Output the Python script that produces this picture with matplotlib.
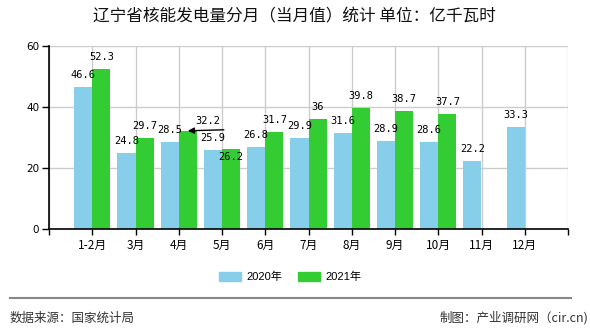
import numpy as np
import matplotlib
matplotlib.use("Agg")
import matplotlib.pyplot as plt
from matplotlib.patches import Patch
from matplotlib.lines import Line2D

plt.rcParams['font.family'] = ['Noto Sans CJK SC', 'DejaVu Sans']

title = "辽宁省核能发电量分月（当月值）统计 单位：亿千瓦时"
months = ['1-2月', '3月', '4月', '5月', '6月', '7月', '8月', '9月', '10月', '11月', '12月']
v2020 = [46.6, 24.8, 28.5, 25.9, 26.8, 29.9, 31.6, 28.9, 28.6, 22.2, 33.3]
v2021 = [52.3, 29.7, 32.2, 26.2, 31.7, 36, 39.8, 38.7, 37.7, np.nan, np.nan]
series_names = ['2020年', '2021年']
yticks = [0, 20, 40, 60]
source_text = "数据来源：国家统计局"
maker_text = "制图：产业调研网（cir.cn)"

c2020 = '#87CEEB'
c2021 = '#33CC33'

W, H = 590, 330
fig = plt.figure(figsize=(W / 100, H / 100), dpi=100)
ax = fig.add_axes([49 / W, 1 - 229 / H, (568 - 49) / W, (229 - 46) / H])

x = np.arange(len(months))
bw = 0.42
ax.bar(x - bw / 2, v2020, width=bw, color=c2020, zorder=3)
ax.bar(x + bw / 2, v2021, width=bw, color=c2021, zorder=3)

ax.set_xlim(-1, len(months))
ax.set_ylim(0, 60)
ax.set_yticks(yticks)
ax.set_yticklabels([str(t) for t in yticks], fontsize=7.5, family='DejaVu Sans')
ax.set_xticks(np.arange(-1, len(months) + 1))
ax.set_xticklabels([''] + months + [''], fontsize=8.5)
ax.tick_params(axis='x', length=4, width=1, color='black', pad=3)
ax.tick_params(axis='y', length=5, width=1, color='black', pad=2)

ax.grid(True, color='#CCCCCC', linewidth=1, zorder=0)
ax.set_axisbelow(True)
for s in ['top', 'right']:
    ax.spines[s].set_visible(False)
for s in ['left', 'bottom']:
    ax.spines[s].set_color('black')
    ax.spines[s].set_linewidth(1.2)
    ax.spines[s].set_zorder(4)

lab_kw = dict(ha='center', va='center', fontsize=7.5, family='DejaVu Sans Mono',
              textcoords='offset pixels', zorder=5)

for xi, v in zip(x, v2020):
    if not np.isnan(v):
        ax.annotate(f"{v:g}", (xi - bw / 2, v), xytext=(0, 12), **lab_kw)

for i, (xi, v) in enumerate(zip(x, v2021)):
    if np.isnan(v):
        continue
    off = (0, 12)
    if i == 2:
        off = (20, 10)
        ax.annotate('', xy=(xi + bw / 2, v), xytext=(36, 1), textcoords='offset pixels',
                    arrowprops=dict(arrowstyle='-|>', color='black', lw=1,
                                    mutation_scale=9, shrinkA=0, shrinkB=0), zorder=5)
    elif i == 3:
        off = (0, -8)
    ax.annotate(f"{v:g}", (xi + bw / 2, v), xytext=off, **lab_kw)

fig.text(294 / W, 1 - 17 / H, title, ha='center', va='center', fontsize=12, color='#111111')

handles = [Patch(color=c2020), Patch(color=c2021)]
fig.legend(handles, series_names, loc='center', bbox_to_anchor=(290 / W, 1 - 277 / H),
           ncol=2, frameon=False, handlelength=2.0, handleheight=0.9,
           handletextpad=0.45, columnspacing=1.4,
           prop={'family': ['Liberation Sans', 'Noto Sans CJK SC'], 'size': 8})

fig.add_artist(Line2D([10 / W, 571 / W], [1 - 298 / H, 1 - 298 / H], color='#888888', lw=1.5))
fig.text(10 / W, 1 - 318 / H, source_text, ha='left', va='center', fontsize=9, color='#333333')
fig.text(588 / W, 1 - 318 / H, maker_text, ha='right', va='center', fontsize=9, color='#333333')

fig.savefig('out.png', dpi=100)
